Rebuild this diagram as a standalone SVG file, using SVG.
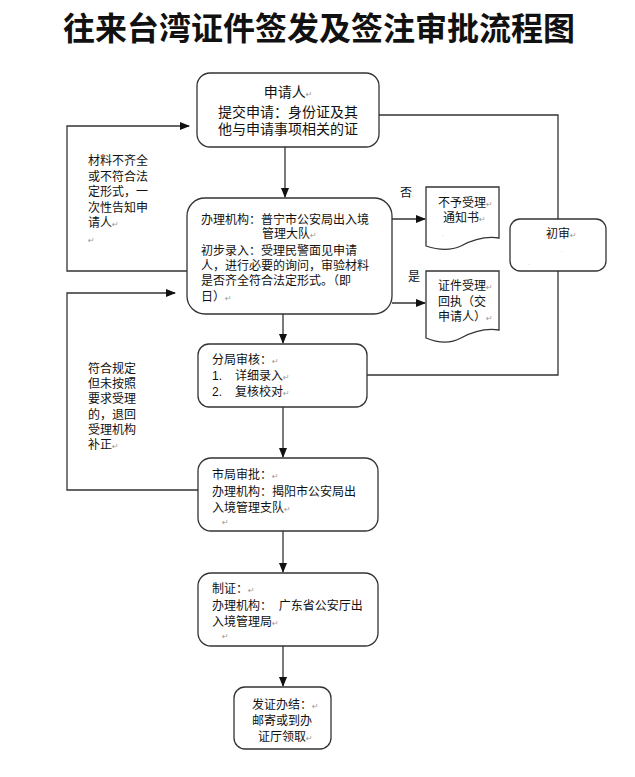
<svg xmlns="http://www.w3.org/2000/svg" width="635" height="777" viewBox="0 0 635 777">
<style>
.box{fill:#fff;stroke:#333;stroke-width:1.3}
.ln{fill:none;stroke:#333;stroke-width:1.3}
text{font-family:"Liberation Sans","Noto Sans CJK SC",sans-serif;fill:#111}
.t12{font-size:12px}
.t14{font-size:14px}
.rt{font-family:"DejaVu Sans",sans-serif;font-size:8px;fill:#999}
.dot{font-size:6px;fill:#aaa}
.title{font-size:32px;font-weight:bold}
</style>
<defs>
<marker id="ah" markerWidth="10" markerHeight="8" refX="9" refY="4" orient="auto" markerUnits="userSpaceOnUse">
<path d="M0,0 L10,4 L0,8 Z" fill="#111"/>
</marker>
</defs>
<rect width="635" height="777" fill="#fff"/>
<text class="title" x="319" y="40" text-anchor="middle">往来台湾证件签发及签注审批流程图</text>

<g id="connectors">
<line class="ln" x1="285" y1="147" x2="285" y2="197" marker-end="url(#ah)"/>
<line class="ln" x1="283" y1="314" x2="283" y2="343" marker-end="url(#ah)"/>
<line class="ln" x1="283" y1="407" x2="283" y2="457" marker-end="url(#ah)"/>
<line class="ln" x1="283" y1="531" x2="283" y2="572" marker-end="url(#ah)"/>
<line class="ln" x1="283" y1="646" x2="283" y2="686" marker-end="url(#ah)"/>
<line class="ln" x1="392" y1="219" x2="425" y2="219" marker-end="url(#ah)"/>
<line class="ln" x1="392" y1="303" x2="425" y2="303" marker-end="url(#ah)"/>
<polyline class="ln" points="187,271 67,271 67,126 189,126" marker-end="url(#ah)"/>
<polyline class="ln" points="198,490 67,490 67,293 175,293" marker-end="url(#ah)"/>
<polyline class="ln" points="379,115 558,115 558,219"/>
<polyline class="ln" points="558,271 558,375 367,375"/>
</g>

<g id="n-apply">
<rect class="box" x="197" y="73" width="182" height="74" rx="13"/>
<text class="t14" x="288" y="97" text-anchor="middle">申请人<tspan class="rt">↵</tspan></text>
<text class="t14" x="288" y="117" text-anchor="middle">提交申请：身份证及其</text>
<text class="t14" x="288" y="134" text-anchor="middle">他与申请事项相关的证</text>
</g>

<g id="n-accept">
<rect class="box" x="187" y="198" width="205" height="116" rx="18"/>
<text class="t12" x="201" y="224">办理机构：普宁市公安局出入境</text>
<text class="t12" x="262" y="238">管理大队<tspan class="rt">↵</tspan></text>
<text class="t12" x="201" y="255">初步录入：受理民警面见申请</text>
<text class="t12" x="201" y="270">人，进行必要的询问，审验材料</text>
<text class="t12" x="201" y="285">是否齐全符合法定形式。（即</text>
<text class="t12" x="201" y="301">日）<tspan class="rt">↵</tspan></text>
</g>

<g id="n-reject-doc">
<path class="box" d="M426,187 H499 V238 C486,236 472,240 461,246 C450,251 438,250 426,246 Z"/>
<text class="t12" x="438" y="207">不予受理<tspan class="rt">↵</tspan></text>
<text class="t12" x="443" y="222">通知书<tspan class="rt">↵</tspan></text>
<text class="dot" x="442" y="236">.</text>
</g>

<g id="n-receipt-doc">
<path class="box" d="M426,271 H499 V330 C486,328 472,332 461,338 C450,344 438,343 426,338 Z"/>
<text class="t12" x="438" y="290">证件受理<tspan class="rt">↵</tspan></text>
<text class="t12" x="438" y="306">回执（交</text>
<text class="t12" x="438" y="321">申请人）<tspan class="rt">↵</tspan></text>
</g>

<g id="n-first">
<rect class="box" x="510" y="219" width="96" height="52" rx="10"/>
<text class="t12" x="546" y="238">初审<tspan class="rt">↵</tspan></text>
<text class="dot" x="561" y="252">.</text>
<text class="dot" x="528" y="265">.</text>
</g>

<g id="labels">
<text class="t12" x="400" y="197">否<tspan class="dot">.</tspan></text>
<text class="t12" x="408" y="281">是</text>
<text class="t12" x="88" y="165">材料不齐全</text>
<text class="t12" x="88" y="181">或不符合法</text>
<text class="t12" x="88" y="196">定形式，一</text>
<text class="t12" x="88" y="212">次性告知申</text>
<text class="t12" x="88" y="227">请人<tspan class="rt">↵</tspan></text>
<text class="rt" x="88" y="243">↵</text>
<text class="t12" x="88" y="373">符合规定</text>
<text class="t12" x="88" y="388">但未按照</text>
<text class="t12" x="88" y="403">要求受理</text>
<text class="t12" x="88" y="419">的，退回</text>
<text class="t12" x="88" y="434">受理机构</text>
<text class="t12" x="88" y="449">补正<tspan class="rt">↵</tspan></text>
</g>

<g id="n-branch">
<rect class="box" x="198" y="344" width="169" height="63" rx="11"/>
<text class="t12" x="212" y="364">分局审核：<tspan class="rt">↵</tspan></text>
<text class="t12" x="212" y="380">1.</text>
<text class="t12" x="235" y="380">详细录入<tspan class="rt">↵</tspan></text>
<text class="t12" x="212" y="396">2.</text>
<text class="t12" x="235" y="396">复核校对<tspan class="rt">↵</tspan></text>
</g>

<g id="n-city">
<rect class="box" x="198" y="458" width="180" height="73" rx="13"/>
<text class="t12" x="212" y="479">市局审批：<tspan class="rt">↵</tspan></text>
<text class="t12" x="212" y="496">办理机构：揭阳市公安局出</text>
<text class="t12" x="212" y="512">入境管理支队<tspan class="rt">↵</tspan></text>
<text class="rt" x="222" y="525">↵</text>
</g>

<g id="n-make">
<rect class="box" x="198" y="573" width="180" height="73" rx="13"/>
<text class="t12" x="212" y="593">制证：<tspan class="rt">↵</tspan></text>
<text class="t12" x="212" y="610" xml:space="preserve">办理机构：  广东省公安厅出</text>
<text class="t12" x="212" y="626">入境管理局<tspan class="rt">↵</tspan></text>
<text class="rt" x="222" y="639">↵</text>
</g>

<g id="n-issue">
<rect class="box" x="234" y="687" width="97" height="62" rx="11"/>
<text class="t12" x="252" y="709">发证办结：<tspan class="rt">↵</tspan></text>
<text class="t12" x="252" y="725">邮寄或到办</text>
<text class="t12" x="258" y="741">证厅领取<tspan class="rt">↵</tspan></text>
</g>
</svg>
